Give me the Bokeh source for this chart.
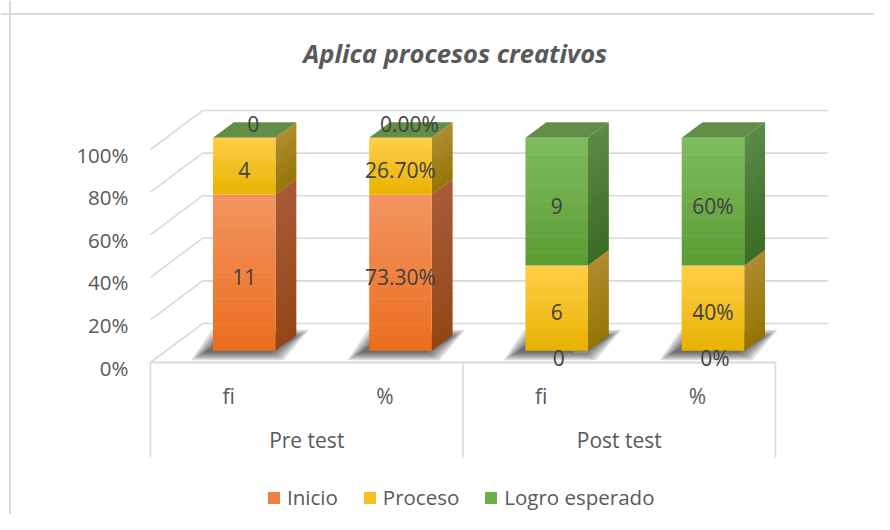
from bokeh.plotting import figure
from bokeh.models import Range1d, Legend, LegendItem, Span, ColumnDataSource
from bokeh.core.properties import value
from bokeh.embed import file_html
from bokeh.resources import INLINE

# ---------------- data ----------------
title_text = "Aplica procesos creativos"
groups = ["Pre test", "Post test"]
subcats = ["fi", "%", "fi", "%"]
series_names = ["Inicio", "Proceso", "Logro esperado"]
inicio = [11, 73.3, 0, 0]
proceso = [4, 26.7, 6, 40]
logro = [0, 0.0, 9, 60]
labels_inicio = ["11", "73.30%", "0", "0%"]
labels_proceso = ["4", "26.70%", "6", "40%"]
labels_logro = ["0", "0.00%", "9", "60%"]
y_ticks = [0, 20, 40, 60, 80, 100]
y_tick_labels = ["0%", "20%", "40%", "60%", "80%", "100%"]

# ---------------- style ----------------
FONT = "Open Sans"
GRID = "#D9D9D9"
TXT = "#595959"
LBL = "#404040"
DX, DY = 0.333, 18.3        # depth of the 3D box in data units
FB, BD = 0.30, 0.40         # bar front depth fraction, bar depth fraction
BW = 0.40                   # bar width
N = 30                      # gradient strips

front_cols = [((243, 148, 98), (235, 110, 30)),
              ((255, 206, 72), (232, 178, 0)),
              ((128, 188, 96), (90, 156, 50))]
side_cols = [((168, 90, 54), (146, 70, 20)),
             ((174, 138, 46), (148, 116, 0)),
             ((90, 138, 68), (56, 106, 34))]
top_col = (98, 142, 72)


def lerp(c0, c1, t):
    return "#%02x%02x%02x" % tuple(int(round(a + (b - a) * t)) for a, b in zip(c0, c1))


W, H = 874, 514
px_x = 156.25   # pixels per category unit
px_y = 2.13     # pixels per percent
X0, Y0 = 150, 362  # pixel position of the front-left floor corner
p = figure(width=W, height=H, output_backend="svg", toolbar_location=None,
           x_range=Range1d((0 - X0) / px_x, (W - X0) / px_x),
           y_range=Range1d((Y0 - H) / px_y, (Y0 - 0) / px_y),
           x_axis_location=None, y_axis_location=None, min_border=0)
p.grid.visible = False
p.outline_line_color = None
p.background_fill_color = "white"

# outer chart border
p.add_layout(Span(location=(9.5 - X0) / px_x, dimension="height", line_color=GRID, line_width=2))
p.add_layout(Span(location=(Y0 - 13.5) / px_y, dimension="width", line_color=GRID, line_width=2))

ncat = len(subcats)
# back wall gridlines & left wall lines
p.multi_line(xs=[[DX, ncat + DX] for _ in y_ticks], ys=[[t + DY, t + DY] for t in y_ticks],
             line_color=GRID, line_width=1.6)
p.multi_line(xs=[[0, DX] for _ in y_ticks], ys=[[t, t + DY] for t in y_ticks],
             line_color=GRID, line_width=1.6)
# floor front edge
p.line(x=[0, ncat], y=[0, 0], line_color=GRID, line_width=2.2)
# category box
box_bottom = -44.6
p.multi_line(xs=[[g * ncat / len(groups)] * 2 for g in range(len(groups) + 1)],
             ys=[[0, box_bottom] for _ in range(len(groups) + 1)], line_color=GRID, line_width=1.6)

# y tick labels
p.text(x=[0] * len(y_ticks), y=y_ticks, text=y_tick_labels, x_offset=-22, y_offset=5,
       text_align="right", text_baseline="middle", text_font=value(FONT),
       text_font_size="20.5px", text_color=TXT)

# category labels
p.text(x=[i + 0.5 for i in range(ncat)], y=[-15.5] * ncat, text=subcats,
       text_align="center", text_baseline="middle", text_font=value(FONT),
       text_font_size="21px", text_color=TXT)
p.text(x=[(g + 0.5) * ncat / len(groups) for g in range(len(groups))], y=[-36.6] * len(groups),
       text=groups, text_align="center", text_baseline="middle", text_font=value(FONT),
       text_font_size="21px", text_color=TXT)

# title
p.text(x=[ncat / 2 - 0.05], y=[145.5], text=[title_text], text_align="center",
       text_baseline="middle", text_font=value(FONT), text_font_size="25.5px",
       text_font_style="bold italic", text_color=TXT)

# ---------------- bars ----------------
vals = [inicio, proceso, logro]
labs = [labels_inicio, labels_proceso, labels_logro]
shadow = dict(xs=[], ys=[])
fronts = [dict(left=[], right=[], bottom=[], top=[], color=[]) for _ in vals]
side = dict(xs=[], ys=[], color=[])
topf = dict(xs=[], ys=[])
lab = dict(x=[], y=[], text=[], xo=[], yo=[])
leader = dict(xs=[], ys=[])
FY = FB * DY
BDX, BDY = BD * DX, BD * DY
for i in range(ncat):
    total = sum(v[i] for v in vals)
    xc = i + 0.5 + FB * DX
    xl, xr = xc - BW / 2, xc + BW / 2
    # soft shadow on the floor
    for k in range(6):
        g = k * 0.016
        gy = k * 0.7
        sx, sy = -0.06, -0.9
        shadow["xs"].append([xl + sx - g, xr + sx + g + 0.03, xr + BDX + sx + g + 0.06, xl + BDX + sx - g])
        shadow["ys"].append([FY + sy - gy, FY + sy - gy, FY + BDY + sy + gy, FY + BDY + sy + gy])
    cum = 0.0
    for s in range(len(vals)):
        share = vals[s][i] / total * 100
        b, t = cum, cum + share
        cum = t
        if share > 0:
            for k in range(N):
                y0 = b + (t - b) * k / N
                y1 = b + (t - b) * (k + 1) / N
                ext = 0.25 if k < N - 1 else 0.0
                frac = 1 - (k + 0.5) / N  # 0 at top, 1 at bottom
                f = fronts[s]
                f["left"].append(xl)
                f["right"].append(xr)
                f["bottom"].append(y0 + FY)
                f["top"].append(y1 + FY + ext)
                f["color"].append(lerp(front_cols[s][0], front_cols[s][1], frac))
                side["xs"].append([xr, xr + BDX, xr + BDX, xr])
                side["ys"].append([y0 + FY, y0 + FY + BDY, y1 + FY + BDY + ext, y1 + FY + ext])
                side["color"].append(lerp(side_cols[s][0], side_cols[s][1], frac))
        # data label
        lab["x"].append(xc)
        lab["y"].append((b + t) / 2 + FY)
        lab["text"].append(labs[s][i])
        if share == 0 and b >= 99.9:
            lab["xo"].append(9)
            lab["yo"].append(-14)
        elif share == 0:
            lab["xo"].append(2)
            lab["yo"].append(7)
            if labs[s][i] == "0":
                # small leader line of an offset zero label
                leader["xs"].append([xc + 0.11, xc + 0.19, xc + 0.19])
                leader["ys"].append([FY - 0.6, FY - 0.6, FY + 0.4])
        else:
            lab["xo"].append(0)
            lab["yo"].append(4)
    topf["xs"].append([xl, xr, xr + BDX, xl + BDX])
    topf["ys"].append([cum + FY, cum + FY, cum + FY + BDY, cum + FY + BDY])

p.patches(xs="xs", ys="ys", source=ColumnDataSource(shadow), fill_color="black",
          fill_alpha=0.13, line_color=None)
p.patches(xs="xs", ys="ys", source=ColumnDataSource(side), fill_color="color",
          line_color=None)
p.patches(xs="xs", ys="ys", source=ColumnDataSource(topf), fill_color=lerp(top_col, top_col, 0),
          line_color=None)
front_renderers = []
for s in range(len(vals)):
    r = p.quad(left="left", right="right", bottom="bottom", top="top",
               source=ColumnDataSource(fronts[s]), fill_color="color", line_color=None)
    front_renderers.append(r)
p.multi_line(xs="xs", ys="ys", source=ColumnDataSource(leader), line_color="#A6A6A6", line_width=1)
p.text(x="x", y="y", text="text", x_offset="xo", y_offset="yo", source=ColumnDataSource(lab),
       text_align="center", text_baseline="middle", text_font=value(FONT),
       text_font_size="21px", text_color=LBL)

# ---------------- legend ----------------
items = [LegendItem(label=name, renderers=[front_renderers[s]], index=N // 2)
         for s, name in enumerate(series_names)]
legend = Legend(items=items, orientation="horizontal", location=(266, 3),
                glyph_width=15, glyph_height=15, label_standoff=6, spacing=24,
                padding=0, margin=0, border_line_color=None, background_fill_alpha=0,
                label_text_font=FONT, label_text_font_size="20.5px", label_text_color=TXT)
p.add_layout(legend, "center")

open("out.html", "w").write(file_html(p, INLINE))
